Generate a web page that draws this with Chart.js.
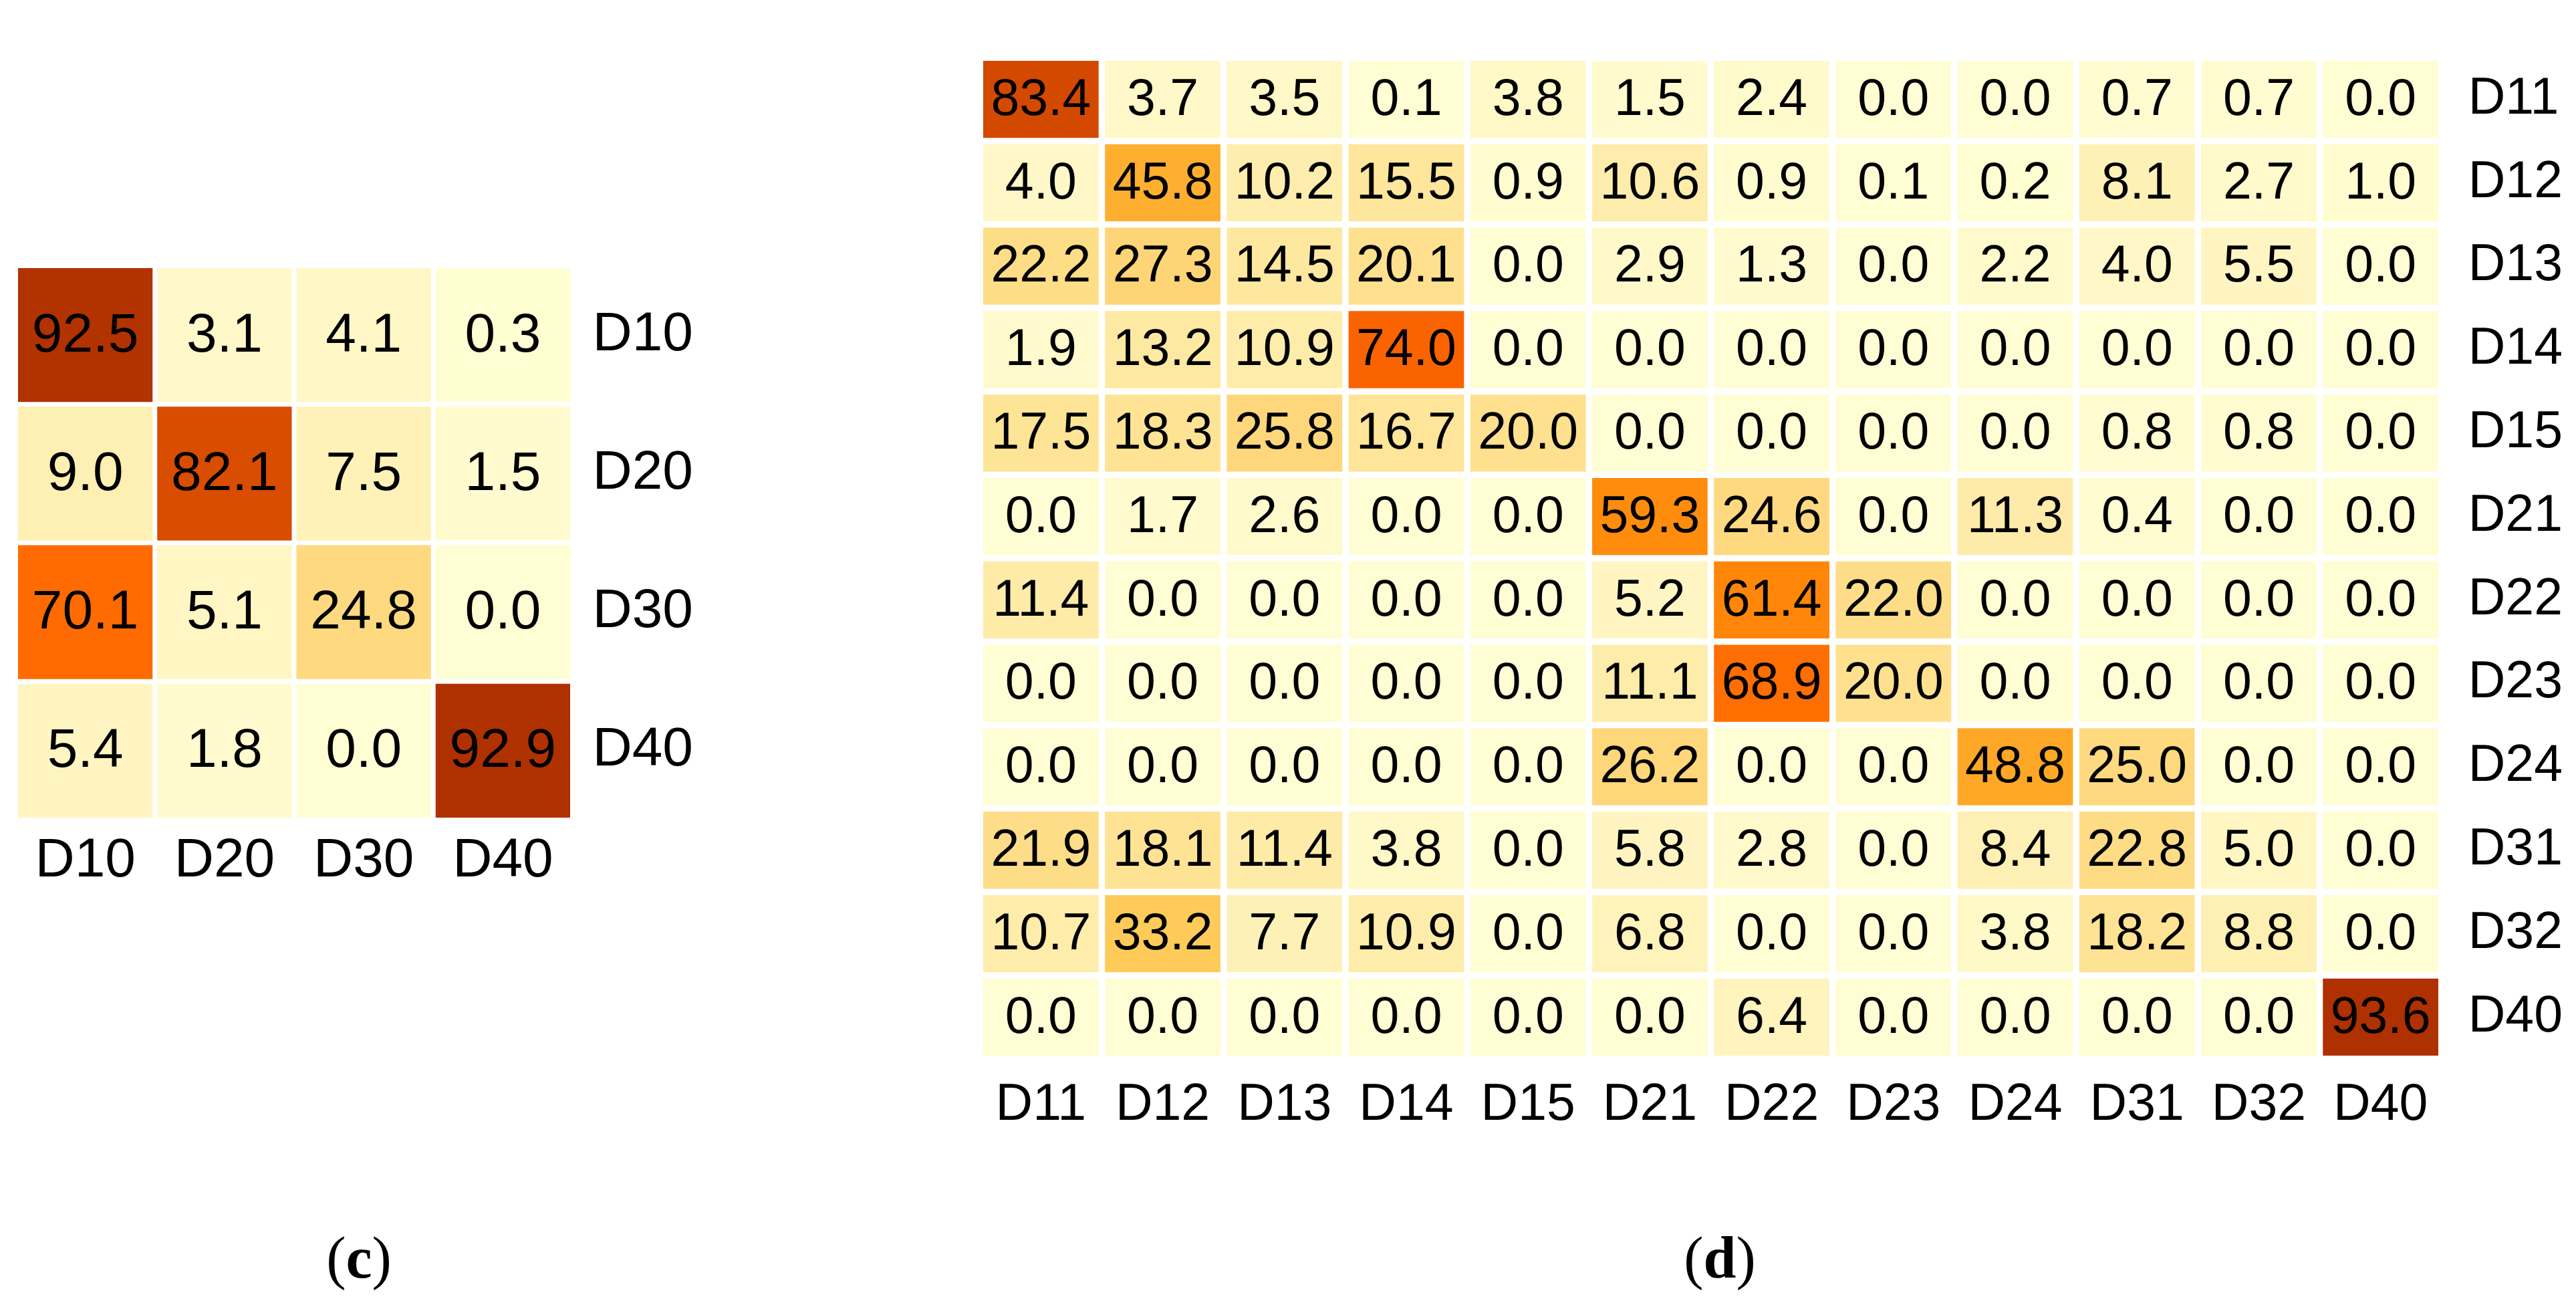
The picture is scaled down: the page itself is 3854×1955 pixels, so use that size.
<!DOCTYPE html>
<html>
<head>
<meta charset="utf-8">
<script src="https://cdn.jsdelivr.net/npm/chart.js@4.4.1/dist/chart.umd.min.js"></script>
<style>
  html, body { margin: 0; padding: 0; background: #fff; }
  body { width: 3854px; height: 1955px; position: relative; overflow: hidden; }
  canvas { position: absolute; }
  #chartC { left: 0; top: 0; }
  #chartD { left: 1300px; top: 0; }
  .cap { position: absolute; width: 300px; text-align: center; font-family: "Liberation Serif", "Times New Roman", serif; font-size: 88px; line-height: 88px; color: #000; }
</style>
</head>
<body>
<canvas id="chartC" width="1300" height="1450"></canvas>
<canvas id="chartD" width="2554" height="1800"></canvas>
<div class="cap" style="left:387px; top:1838px;">(<b>c</b>)</div>
<div class="cap" style="left:2423px; top:1838px;">(<b>d</b>)</div>
<script>
// (c) four classes
const cLabels = ['D10', 'D20', 'D30', 'D40'];
const cValues = [
  [92.5, 3.1, 4.1, 0.3],
  [9.0, 82.1, 7.5, 1.5],
  [70.1, 5.1, 24.8, 0.0],
  [5.4, 1.8, 0.0, 92.9]
];

// (d) twelve classes
const dLabels = ['D11', 'D12', 'D13', 'D14', 'D15', 'D21', 'D22', 'D23', 'D24', 'D31', 'D32', 'D40'];
const dValues = [
  [83.4, 3.7, 3.5, 0.1, 3.8, 1.5, 2.4, 0.0, 0.0, 0.7, 0.7, 0.0],
  [4.0, 45.8, 10.2, 15.5, 0.9, 10.6, 0.9, 0.1, 0.2, 8.1, 2.7, 1.0],
  [22.2, 27.3, 14.5, 20.1, 0.0, 2.9, 1.3, 0.0, 2.2, 4.0, 5.5, 0.0],
  [1.9, 13.2, 10.9, 74.0, 0.0, 0.0, 0.0, 0.0, 0.0, 0.0, 0.0, 0.0],
  [17.5, 18.3, 25.8, 16.7, 20.0, 0.0, 0.0, 0.0, 0.0, 0.8, 0.8, 0.0],
  [0.0, 1.7, 2.6, 0.0, 0.0, 59.3, 24.6, 0.0, 11.3, 0.4, 0.0, 0.0],
  [11.4, 0.0, 0.0, 0.0, 0.0, 5.2, 61.4, 22.0, 0.0, 0.0, 0.0, 0.0],
  [0.0, 0.0, 0.0, 0.0, 0.0, 11.1, 68.9, 20.0, 0.0, 0.0, 0.0, 0.0],
  [0.0, 0.0, 0.0, 0.0, 0.0, 26.2, 0.0, 0.0, 48.8, 25.0, 0.0, 0.0],
  [21.9, 18.1, 11.4, 3.8, 0.0, 5.8, 2.8, 0.0, 8.4, 22.8, 5.0, 0.0],
  [10.7, 33.2, 7.7, 10.9, 0.0, 6.8, 0.0, 0.0, 3.8, 18.2, 8.8, 0.0],
  [0.0, 0.0, 0.0, 0.0, 0.0, 0.0, 6.4, 0.0, 0.0, 0.0, 0.0, 93.6]
];

// colour ramp
const ramp = [
  [0, '#FFFDD3'], [3, '#FFF9CA'], [6, '#FFF4C0'], [9, '#FEEFB2'], [12, '#FEEAA6'],
  [18, '#FEE395'], [22, '#FEDD88'], [26, '#FED77C'], [33, '#FECB5C'], [47, '#FFAC2C'],
  [60, '#FF8A0A'], [70, '#FF6B00'], [75, '#F86200'], [83, '#D54A00'], [93, '#B03100'], [100, '#A02A00']
];

function hexRgb(h) {
  return [parseInt(h.slice(1, 3), 16), parseInt(h.slice(3, 5), 16), parseInt(h.slice(5, 7), 16)];
}

function heat(v) {
  for (let i = 1; i < ramp.length; i++) {
    if (v <= ramp[i][0]) {
      const a = hexRgb(ramp[i - 1][1]), b = hexRgb(ramp[i][1]);
      const t = (v - ramp[i - 1][0]) / (ramp[i][0] - ramp[i - 1][0]);
      return 'rgb(' + a.map((x, k) => Math.round(x + (b[k] - x) * t)).join(',') + ')';
    }
  }
  return ramp[ramp.length - 1][1];
}

const FONT = '"Liberation Sans", Arial, sans-serif';

// writes the value in the middle of each cell
const cellText = {
  id: 'cellText',
  afterDatasetsDraw(chart, args, opts) {
    const ctx = chart.ctx;
    ctx.save();
    ctx.font = opts.size + 'px ' + FONT;
    ctx.fillStyle = '#000';
    ctx.textAlign = 'center';
    ctx.textBaseline = 'middle';
    chart.data.datasets.forEach((ds, i) => {
      chart.getDatasetMeta(i).data.forEach((bar, j) => {
        ctx.fillText(ds.values[j].toFixed(1), bar.x, (bar.y + bar.base) / 2 + opts.dy);
      });
    });
    ctx.restore();
  }
};

function heatmap(id, labels, values, g) {
  const n = labels.length;
  // bottom row first, so the stack builds upwards
  const datasets = values.map((row, r) => ({
    label: labels[r],
    data: row.map(() => 1),
    values: row,
    backgroundColor: row.map(heat),
    borderColor: '#ffffff',
    borderWidth: g.border,
    borderSkipped: false,
    inflateAmount: 0,
    categoryPercentage: 1,
    barPercentage: 1
  })).reverse();

  return new Chart(document.getElementById(id), {
    type: 'bar',
    data: { labels: labels, datasets: datasets },
    options: {
      responsive: false,
      devicePixelRatio: 1,
      animation: false,
      layout: { padding: { left: g.left, top: g.top, right: 0, bottom: 0 } },
      plugins: {
        legend: { display: false },
        tooltip: { enabled: false },
        cellText: { size: g.font, dy: g.dy }
      },
      scales: {
        x: {
          stacked: true,
          grid: { display: false, drawTicks: false },
          border: { display: false },
          ticks: { color: '#000', font: { family: FONT, size: g.font }, padding: g.xPad, maxRotation: 0, autoSkip: false },
          afterFit: s => { s.height = g.xHeight; }
        },
        y: {
          stacked: true,
          position: 'right',
          min: 0,
          max: n,
          grid: { display: false, drawTicks: false },
          border: { display: false },
          ticks: {
            color: '#000',
            font: { family: FONT, size: g.font },
            padding: g.yPad,
            callback: v => labels[n - 1 - Math.floor(v)]
          },
          afterBuildTicks: s => { s.ticks = labels.map((_, i) => ({ value: i + 0.5 })); },
          afterFit: s => { s.width = g.yWidth; }
        }
      }
    },
    plugins: [cellText]
  });
}

heatmap('chartC', cLabels, cValues, {
  left: 23.5, top: 397.5, yWidth: 443.5, xHeight: 223.5,
  border: 3.5, font: 82, xPad: 13, yPad: 30, dy: 2
});

heatmap('chartD', dLabels, dValues, {
  left: 166.25, top: 25.25, yWidth: 201.25, xHeight: 216.25,
  border: 4.75, font: 77, xPad: 24, yPad: 40, dy: 2
});
</script>
</body>
</html>
